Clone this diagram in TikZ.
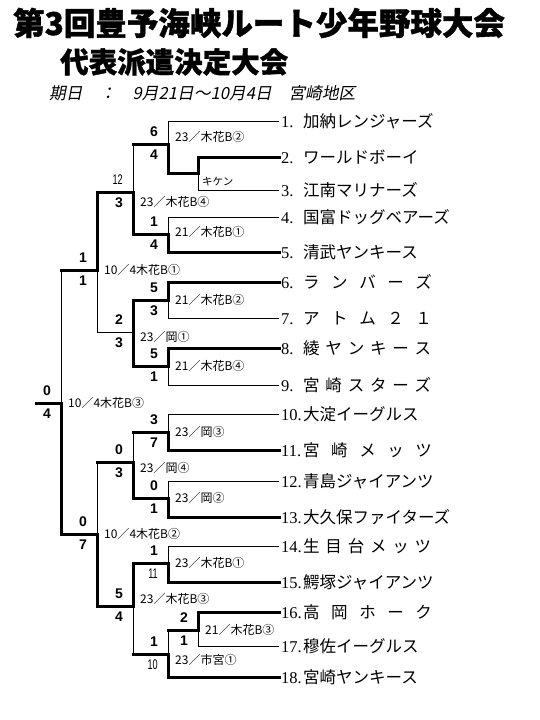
\documentclass[tikz,border=0pt]{standalone}
\usepackage{fontspec}
\setmainfont{Liberation Serif}
\setsansfont{Liberation Sans}
\newfontfamily\jp{Noto Sans CJK JP}
\newfontfamily\jphead{Noto Sans CJK JP}[FakeBold=1.2]
\newfontfamily\jpslant{Noto Sans CJK JP}[FakeSlant=0.2]
\usetikzlibrary{positioning}
\newcommand{\wgap}{\hspace{.7em}}
\newcommand{\ngap}{\hspace{.35em}}

\begin{document}
\begin{tikzpicture}[x=1pt, y=-1pt,
  win/.style={line width=3pt, line cap=rect},
  lose/.style={line width=1pt},
  team/.style={anchor=west, inner xsep=2pt, inner ysep=0pt, font=\fontsize{16.5}{18}\selectfont},
  score/.style={inner sep=1pt, font=\sffamily\bfseries\fontsize{14}{14}\selectfont},
  narrow/.style={inner sep=1pt, font=\sffamily\fontsize{14}{14}\selectfont},
  venue/.style={inner sep=1pt, font=\jp\fontsize{12}{12}\selectfont},
  head/.style={anchor=west, inner sep=0pt}
]
\useasboundingbox (0,0) rectangle (540,720);

\node[head, font=\jphead\bfseries\fontsize{31.5}{32}\selectfont] (title) at (13,23) {第3回豊予海峡ルート少年野球大会};
\node[head, font=\jphead\bfseries\fontsize{28.5}{29}\selectfont] (sub) at (60,62) {代表派遣決定大会};
\node[head, font=\jpslant\fontsize{16.7}{17}\selectfont] (date) at (49,93) {期日　：　9月21日～10月4日　宮崎地区};

% teams
\node[team] (t1) at (279,121) {\makebox[22pt][l]{1.}\jp 加納レンジャーズ};
\node[team] (t2) at (279,157) {\makebox[22pt][l]{2.}\jp ワールドボーイ};
\node[team] (t3) at (279,190) {\makebox[22pt][l]{3.}\jp 江南マリナーズ};
\node[team] (t4) at (279,217) {\makebox[22pt][l]{4.}\jp 国富ドッグベアーズ};
\node[team] (t5) at (279,252) {\makebox[22pt][l]{5.}\jp 清武ヤンキース};
\node[team] (t6) at (279,282) {\makebox[22pt][l]{6.}\jp ラ\wgap ン\wgap バ\wgap ー\wgap ズ};
\node[team] (t7) at (279,318) {\makebox[22pt][l]{7.}\jp ア\wgap ト\wgap ム\wgap ２\wgap １};
\node[team] (t8) at (279,348) {\makebox[22pt][l]{8.}\jp 綾\ngap ヤ\ngap ン\ngap キ\ngap ー\ngap ス};
\node[team] (t9) at (279,385) {\makebox[22pt][l]{9.}\jp 宮\ngap 崎\ngap ス\ngap タ\ngap ー\ngap ズ};
\node[team] (t10) at (279,414) {\makebox[22pt][l]{10.}\jp 大淀イーグルス};
\node[team] (t11) at (279,450) {\makebox[22pt][l]{11.}\jp 宮\wgap 崎\wgap メ\wgap ッ\wgap ツ};
\node[team] (t12) at (279,481) {\makebox[22pt][l]{12.}\jp 青島ジャイアンツ};
\node[team] (t13) at (279,517) {\makebox[22pt][l]{13.}\jp 大久保ファイターズ};
\node[team] (t14) at (279,546) {\makebox[22pt][l]{14.}\jp 生\ngap 目\ngap 台\ngap メ\ngap ッ\ngap ツ};
\node[team] (t15) at (279,582) {\makebox[22pt][l]{15.}\jp 鰐塚ジャイアンツ};
\node[team] (t16) at (279,612) {\makebox[22pt][l]{16.}\jp 高\wgap 岡\wgap ホ\wgap ー\wgap ク};
\node[team] (t17) at (279,646) {\makebox[22pt][l]{17.}\jp 穆佐イーグルス};
\node[team] (t18) at (279,677) {\makebox[22pt][l]{18.}\jp 宮崎ヤンキース};

% match points
\coordinate (m23) at (198,173);
\coordinate (m1) at (168,144);
\coordinate (m45) at (168,234);
\coordinate (r2a) at (133,192);
\coordinate (m67) at (168,300);
\coordinate (m89) at (168,366);
\coordinate (r2b) at (133,332);
\coordinate (r3a) at (97,270);
\coordinate (fin) at (61,403);
\coordinate (champ) at (36,403);
\coordinate (m1011) at (168,432);
\coordinate (m1213) at (168,498);
\coordinate (r2c) at (133,462);
\coordinate (m1415) at (168,563);
\coordinate (m1617) at (198,630);
\coordinate (m18) at (168,654);
\coordinate (r2d) at (133,606);
\coordinate (r3b) at (97,534);

\draw[lose] (t1.west) -| (m1);
\draw[lose] (t3.west) -| (m23);
\draw[lose] (t4.west) -| (m45);
\draw[lose] (t7.west) -| (m67);
\draw[lose] (t9.west) -| (m89);
\draw[lose] (t10.west) -| (m1011);
\draw[lose] (t12.west) -| (m1213);
\draw[lose] (t14.west) -| (m1415);
\draw[lose] (t17.west) -| (m1617);
\draw[lose] (m1 -| r2a) -- (r2a);
\draw[lose] (r2b) -| (r3a);
\draw[lose] (r3a -| fin) -- (fin);
\draw[lose] (m1011 -| r2c) -- (r2c);
\draw[lose] (r2c -| r3b) -- (r3b);
\draw[lose] (m1617 -| m18) -- (m18);
\draw[lose] (m18 -| r2d) -- (r2d);

\draw[win] (t2.west) -| (m23);
\draw[win] (t5.west) -| (m45);
\draw[win] (t6.west) -| (m67);
\draw[win] (t8.west) -| (m89);
\draw[win] (t11.west) -| (m1011);
\draw[win] (t13.west) -| (m1213);
\draw[win] (t15.west) -| (m1415);
\draw[win] (t16.west) -| (m1617);
\draw[win] (t18.west) -| (m18);
\draw[win] (m23) -| (m1);
\draw[win] (m1) -- (m1 -| r2a);
\draw[win] (m45) -| (r2a);
\draw[win] (r2a) -| (r3a);
\draw[win] (m67) -| (r2b);
\draw[win] (m89) -| (r2b);
\draw[win] (r3a) -- (r3a -| fin);
\draw[win] (m1011) -- (m1011 -| r2c);
\draw[win] (m1213) -| (r2c);
\draw[win] (r2c) -- (r2c -| r3b);
\draw[win] (m1415) -| (r2d);
\draw[win] (m1617) -- (m1617 -| m18);
\draw[win] (m18) -- (m18 -| r2d);
\draw[win] (r2d) -| (r3b);
\draw[win] (r3b) -| (fin);
\draw[win] (fin) -- (champ);

% scores
\node[score, above left=6pt and 9pt of m1] (s1a) {6};
\node[score, below left=5pt and 9pt of m1] (s1b) {4};
\node[score, above left=6pt and 9pt of m45] (s45a) {1};
\node[score, below left=5pt and 9pt of m45] (s45b) {4};
\node[narrow, above left=6pt and 9pt of r2a] (s2aa) {\scalebox{.65}[1]{12}};
\node[score, below left=5pt and 9pt of r2a] (s2ab) {3};
\node[score, above left=6pt and 9pt of r3a] (s3aa) {1};
\node[score, below left=5pt and 9pt of r3a] (s3ab) {1};
\node[score, above left=6pt and 9pt of m67] (s67a) {5};
\node[score, below left=5pt and 9pt of m67] (s67b) {3};
\node[score, above left=6pt and 9pt of m89] (s89a) {5};
\node[score, below left=5pt and 9pt of m89] (s89b) {1};
\node[score, above left=6pt and 9pt of r2b] (s2ba) {2};
\node[score, below left=5pt and 9pt of r2b] (s2bb) {3};
\node[score, above left=6pt and 9pt of fin] (sfa) {0};
\node[score, below left=5pt and 9pt of fin] (sfb) {4};
\node[score, above left=6pt and 9pt of m1011] (s1011a) {3};
\node[score, below left=5pt and 9pt of m1011] (s1011b) {7};
\node[score, above left=6pt and 9pt of m1213] (s1213a) {0};
\node[score, below left=5pt and 9pt of m1213] (s1213b) {1};
\node[score, above left=6pt and 9pt of r2c] (s2ca) {0};
\node[score, below left=5pt and 9pt of r2c] (s2cb) {3};
\node[score, above left=6pt and 9pt of r3b] (s3ba) {0};
\node[score, below left=5pt and 9pt of r3b] (s3bb) {7};
\node[score, above left=6pt and 9pt of m1415] (s1415a) {1};
\node[narrow, below left=5pt and 9pt of m1415] (s1415b) {\scalebox{.65}[1]{11}};
\node[score, above left=6pt and 9pt of m1617] (s1617a) {2};
\node[score, below left=5pt and 9pt of m1617] (s1617b) {1};
\node[score, above left=6pt and 9pt of m18] (s18a) {1};
\node[narrow, below left=5pt and 9pt of m18] (s18b) {\scalebox{.65}[1]{10}};
\node[score, above left=6pt and 9pt of r2d] (s2da) {5};
\node[score, below left=5pt and 9pt of r2d] (s2db) {4};

\node[venue, below right=3pt and 3pt of m23, font=\jp\fontsize{10.5}{10.5}\selectfont] (kiken) {キケン};

% dates and grounds
\node[venue, right=6pt of m1, yshift=7pt] (v1) {23／木花B②};
\node[venue, right=6pt of m45, yshift=2pt] (v45) {21／木花B①};
\node[venue, right=6pt of r2a, yshift=-10pt] (v2a) {23／木花B④};
\node[venue, right=6pt of r3a] (v3a) {10／4木花B①};
\node[venue, right=6pt of m67] (v67) {21／木花B②};
\node[venue, right=6pt of r2b, yshift=-5pt] (v2b) {23／岡①};
\node[venue, right=6pt of m89] (v89) {21／木花B④};
\node[venue, right=6pt of fin] (vf) {10／4木花B③};
\node[venue, right=6pt of m1011] (v1011) {23／岡③};
\node[venue, right=6pt of r2c, yshift=-6pt] (v2c) {23／岡④};
\node[venue, right=6pt of m1213] (v1213) {23／岡②};
\node[venue, right=6pt of r3b] (v3b) {10／4木花B②};
\node[venue, right=6pt of m1415] (v1415) {23／木花B①};
\node[venue, right=6pt of r2d, yshift=7pt] (v2d) {23／木花B③};
\node[venue, right=6pt of m1617] (v1617) {21／木花B③};
\node[venue, right=6pt of m18, yshift=-6pt] (v18) {23／市宮①};
\end{tikzpicture}
\end{document}
